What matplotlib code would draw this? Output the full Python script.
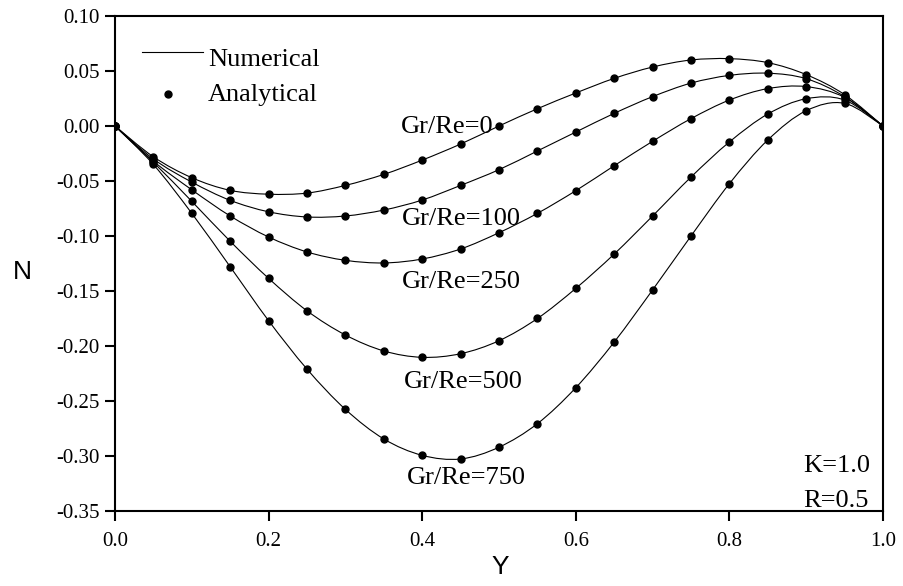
import numpy as np
import matplotlib
matplotlib.use("Agg")
import matplotlib.pyplot as plt
from matplotlib.path import Path
from matplotlib.patches import PathPatch

# Y positions of the analytical points
y_pos = [0.00, 0.05, 0.10, 0.15, 0.20, 0.25, 0.30, 0.35, 0.40, 0.45, 0.50,
         0.55, 0.60, 0.65, 0.70, 0.75, 0.80, 0.85, 0.90, 0.95, 1.00]

# N profiles for each Gr/Re
n_gr0 = [0.0, -0.028, -0.047, -0.0585, -0.062, -0.061, -0.054, -0.044, -0.031, -0.0164, 0.0,
         0.0157, 0.030, 0.0433, 0.0536, 0.060, 0.0612, 0.0576, 0.0467, 0.0285, 0.0]
n_gr100 = [0.0, -0.030, -0.051, -0.0676, -0.078, -0.0827, -0.0818, -0.0764, -0.0673, -0.054, -0.0397,
           -0.0227, -0.0055, 0.0115, 0.0267, 0.039, 0.046, 0.048, 0.043, 0.0267, 0.0]
n_gr250 = [0.0, -0.032, -0.058, -0.0818, -0.1009, -0.1145, -0.1221, -0.1245, -0.1209, -0.1118, -0.097,
           -0.0794, -0.0588, -0.0361, -0.0139, 0.0067, 0.0236, 0.034, 0.0358, 0.026, 0.0]
n_gr500 = [0.0, -0.033, -0.0685, -0.1048, -0.1385, -0.168, -0.190, -0.2045, -0.2103, -0.207, -0.1952,
           -0.175, -0.1476, -0.1164, -0.0818, -0.0464, -0.0145, 0.0109, 0.0248, 0.0236, 0.0]
n_gr750 = [0.0, -0.035, -0.0794, -0.128, -0.177, -0.221, -0.2576, -0.2845, -0.2994, -0.3027, -0.292,
           -0.2706, -0.2379, -0.1964, -0.149, -0.100, -0.0524, -0.0127, 0.0139, 0.0206, 0.0]

curves = [n_gr0, n_gr100, n_gr250, n_gr500, n_gr750]
curve_labels = ["Gr/Re=0", "Gr/Re=100", "Gr/Re=250", "Gr/Re=500", "Gr/Re=750"]
label_xy = [(0.433, -0.0005), (0.451, -0.085), (0.451, -0.1415), (0.454, -0.2325), (0.457, -0.320)]

x_ticks = [0.0, 0.2, 0.4, 0.6, 0.8, 1.0]
y_ticks = [-0.35, -0.30, -0.25, -0.20, -0.15, -0.10, -0.05, 0.00, 0.05, 0.10]

plt.rcParams['axes.unicode_minus'] = False
serif = 'Liberation Serif'


def smooth_path(xs, ys):
    """Catmull-Rom curve through the points, as cubic Bezier segments"""
    pts = np.column_stack([xs, ys])
    verts = [pts[0]]
    codes = [Path.MOVETO]
    for i in range(len(pts) - 1):
        p0 = pts[max(i - 1, 0)]
        p1 = pts[i]
        p2 = pts[i + 1]
        p3 = pts[min(i + 2, len(pts) - 1)]
        verts += [p1 + (p2 - p0) / 6, p2 - (p3 - p1) / 6, p2]
        codes += [Path.CURVE4] * 3
    return Path(verts, codes)


fig = plt.figure(figsize=(9.04, 5.86), dpi=100)
ax = fig.add_axes([0.1272, 0.128, 0.8496, 0.8447])

for n_vals in curves:
    ax.add_patch(PathPatch(smooth_path(y_pos, n_vals), fill=False, edgecolor='black', lw=0.8, zorder=2))
    ax.plot(y_pos, n_vals, 'o', color='black', ms=5, zorder=3)

for text, (tx, ty) in zip(curve_labels, label_xy):
    ax.text(tx, ty, text, family=serif, fontsize=19, ha='center', va='center')

ax.text(0.940, -0.309, "K=1.0", family=serif, fontsize=19, ha='center', va='center')
ax.text(0.939, -0.341, "R=0.5", family=serif, fontsize=19, ha='center', va='center')

# legend drawn by hand
ax.plot([0.035, 0.115], [0.0673, 0.0673], color='black', lw=0.8)
ax.text(0.121, 0.0597, "Numerical", family=serif, fontsize=19, ha='left', va='center')
ax.plot([0.069], [0.0289], 'o', color='black', ms=5)
ax.text(0.121, 0.0284, "Analytical", family=serif, fontsize=19, ha='left', va='center')

ax.set_xlim(0.0, 1.0)
ax.set_ylim(-0.35, 0.10)
ax.set_xticks(x_ticks)
ax.set_yticks(y_ticks)
ax.set_xticklabels([f"{v:.1f}" for v in x_ticks], family=serif, fontsize=15)
ax.set_yticklabels([f"{v:.2f}" for v in y_ticks], family=serif, fontsize=15)
ax.tick_params(direction='out', length=7, width=1.5, pad=4)
ax.tick_params(axis='x', pad=8)
ax.tick_params(top=False, right=False)
for sp in ax.spines.values():
    sp.set_linewidth(1.5)

fig.text(22 / 904, 1 - 272 / 586, "N", family='Liberation Sans', fontsize=19, ha='center', va='center')
fig.text(500 / 904, 1 - 567 / 586, "Y", family='Liberation Sans', fontsize=19, ha='center', va='center')

fig.savefig("out.png", dpi=100)
